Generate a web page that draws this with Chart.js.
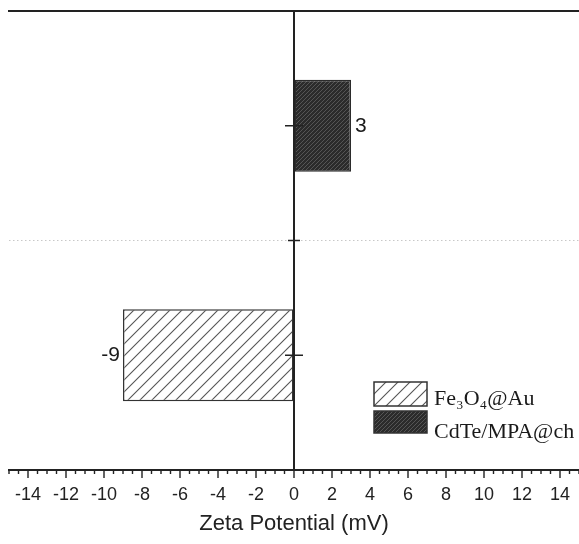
<!DOCTYPE html>
<html>
<head>
<meta charset="utf-8">
<script src="https://cdn.jsdelivr.net/npm/chart.js@4/dist/chart.umd.min.js"></script>
<style>
  body { margin: 0; background: #fff; }
  canvas { display: block; }
</style>
</head>
<body>
<canvas id="zeta" width="579" height="544"></canvas>
<script>
// categories top -> bottom
const categories = ["CdTe/MPA@ch", "Fe₃O₄@Au"];
const seriesNames = ["Fe₃O₄@Au", "CdTe/MPA@ch"];
const feValues = [null, -9];
const cdteValues = [3, null];
const xMin = -15, xMax = 15;
const majorStep = 2, minorStep = 0.5;

// hatch pattern helper
function hatch(bg, line, size, width) {
  const c = document.createElement("canvas");
  c.width = size; c.height = size;
  const g = c.getContext("2d");
  g.fillStyle = bg;
  g.fillRect(0, 0, size, size);
  g.strokeStyle = line;
  g.lineWidth = width;
  g.beginPath();
  g.moveTo(0, size); g.lineTo(size, 0);
  g.moveTo(-size / 2, size / 2); g.lineTo(size / 2, -size / 2);
  g.moveTo(size / 2, size * 1.5); g.lineTo(size * 1.5, size / 2);
  g.stroke();
  return g.createPattern(c, "repeat");
}

const ctx = document.getElementById("zeta").getContext("2d");
const fePattern = hatch("#ffffff", "#555555", 12, 1.1);
const cdtePattern = hatch("#2b2b2b", "#555555", 4, 1);

// axes, ticks, value labels, legend
const decorations = {
  id: "decorations",
  afterDraw(chart) {
    const c = chart.ctx;
    const area = chart.chartArea;
    const xs = chart.scales.x, ys = chart.scales.y;
    const x0 = xs.getPixelForValue(0);
    c.save();

    // dotted line between the two categories
    const mid = (ys.getPixelForValue(0) + ys.getPixelForValue(1)) / 2;
    c.strokeStyle = "#c8c8c8";
    c.lineWidth = 1;
    c.setLineDash([1.5, 2.5]);
    c.beginPath();
    c.moveTo(area.left, mid); c.lineTo(area.right, mid);
    c.stroke();
    c.setLineDash([]);

    // top frame line
    c.strokeStyle = "#222";
    c.lineWidth = 2;
    c.beginPath();
    c.moveTo(area.left - 1, area.top); c.lineTo(area.right, area.top);
    c.stroke();

    // zero line
    c.beginPath();
    c.moveTo(x0, area.top); c.lineTo(x0, area.bottom);
    c.stroke();

    // ticks on zero line
    c.lineWidth = 1.6;
    c.beginPath();
    categories.forEach((_, i) => {
      const y = ys.getPixelForValue(i);
      c.moveTo(x0 - 9, y); c.lineTo(x0 + 9, y);
    });
    c.moveTo(x0 - 6, mid); c.lineTo(x0 + 6, mid);
    c.stroke();

    // x major / minor ticks
    c.lineWidth = 1.4;
    c.beginPath();
    for (let v = xMin; v <= xMax + 1e-9; v += minorStep) {
      const px = xs.getPixelForValue(v);
      const len = (Math.abs(v % majorStep) < 1e-9) ? 8 : 4;
      c.moveTo(px, area.bottom); c.lineTo(px, area.bottom + len);
    }
    c.stroke();

    // value labels
    c.fillStyle = "#1a1a1a";
    c.font = "21px 'Liberation Sans', Arial, sans-serif";
    c.textBaseline = "middle";
    chart.data.datasets.forEach((ds, di) => {
      chart.getDatasetMeta(di).data.forEach((bar, i) => {
        const v = ds.data[i];
        if (v === null) return;
        if (v < 0) {
          c.textAlign = "right";
          c.fillText(String(v), bar.x - 3, bar.y);
        } else {
          c.textAlign = "left";
          c.fillText(String(v), bar.x + 4, bar.y);
        }
      });
    });

    // legend inside plot
    const lx = 374, ly = [382, 411], bw = 53, bh = [24, 22];
    c.font = "22px 'Liberation Serif', 'Times New Roman', serif";
    c.textAlign = "left";
    c.textBaseline = "alphabetic";
    chart.data.datasets.forEach((ds, di) => {
      c.fillStyle = ds.backgroundColor;
      c.fillRect(lx, ly[di], bw, bh[di]);
      c.strokeStyle = "#333";
      c.lineWidth = 1.5;
      c.strokeRect(lx, ly[di], bw, bh[di]);
      c.fillStyle = "#1a1a1a";
      c.fillText(ds.label, lx + 60, di === 0 ? 405 : 438);
    });

    c.restore();
  }
};

new Chart(ctx, {
  type: "bar",
  data: {
    labels: categories,
    datasets: [
      {
        label: seriesNames[0],
        data: feValues,
        backgroundColor: fePattern,
        borderColor: "#333",
        borderWidth: 1.5,
        borderSkipped: false
      },
      {
        label: seriesNames[1],
        data: cdteValues,
        backgroundColor: cdtePattern,
        borderColor: "#2b2b2b",
        borderWidth: 1.5,
        borderSkipped: false
      }
    ]
  },
  options: {
    indexAxis: "y",
    responsive: false,
    animation: false,
    layout: { padding: { left: 9, right: 0, top: 11, bottom: 7 } },
    datasets: { bar: { barPercentage: 0.4, categoryPercentage: 1 } },
    plugins: {
      legend: { display: false },
      tooltip: { enabled: false }
    },
    scales: {
      y: {
        display: false,
        stacked: true
      },
      x: {
        stacked: true,
        min: xMin,
        max: xMax,
        grid: { drawOnChartArea: false, drawTicks: true, tickLength: 14, tickColor: "rgba(0,0,0,0)" },
        border: { display: true, color: "#222", width: 2 },
        ticks: {
          stepSize: minorStep,
          autoSkip: false,
          maxRotation: 0,
          padding: 0,
          color: "#222",
          font: { family: "'Liberation Sans', Arial, sans-serif", size: 18 },
          callback: (v) => (v % majorStep === 0 && Math.abs(v) < xMax) ? String(v) : ""
        },
        title: {
          display: true,
          text: "Zeta Potential (mV)",
          color: "#222",
          font: { family: "'Liberation Sans', Arial, sans-serif", size: 22 },
          padding: { top: 5, bottom: 0 }
        }
      }
    }
  },
  plugins: [decorations]
});
</script>
</body>
</html>
